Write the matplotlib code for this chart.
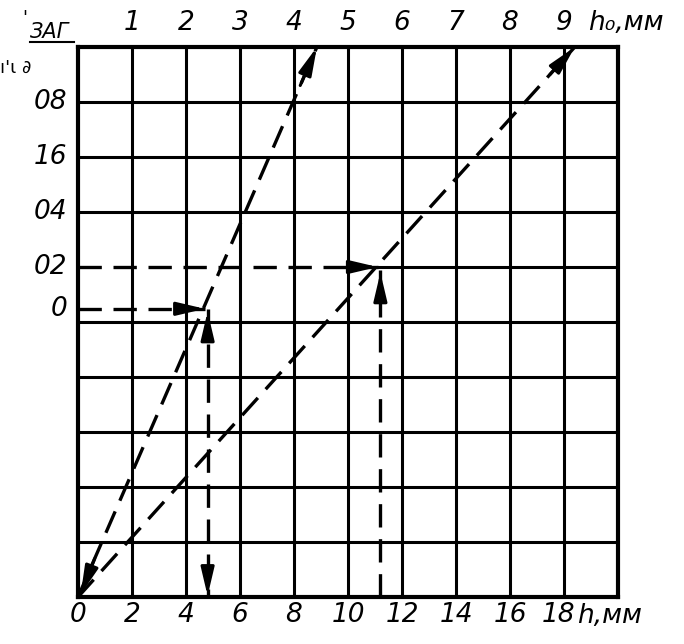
import matplotlib
matplotlib.use("Agg")
import matplotlib.pyplot as plt
from matplotlib import font_manager

# grid / scales
h_ticks = [0, 2, 4, 6, 8, 10, 12, 14, 16, 17.8]
h_labels = ["0", "2", "4", "6", "8", "10", "12", "14", "16", "18"]
h0_ticks = [2, 4, 6, 8, 10, 12, 14, 16, 18]
h0_labels = ["1", "2", "3", "4", "5", "6", "7", "8", "9"]
left_pos = [9, 8, 7, 6, 5.24]
left_labels = ["08", "16", "04", "02", "0"]

# the two dashed nomogram lines (h, grid units)
line_a_h = [0, 8.85]
line_a_y = [0, 10]
line_b_h = [0, 18.4]
line_b_y = [0, 10]

# reading examples
read1_y = 5.24
read1_h_tip = 4.7
read1_h_down = 4.8
read2_y = 6.0
read2_h_tip = 11.1
read2_h_up = 11.2
read2_y_tip = 5.95

try:
    font_manager.findfont("Liberation Sans Narrow", fallback_to_default=False)
    fam, fsize = "Liberation Sans Narrow", 22
except Exception:
    fam, fsize = "DejaVu Sans", 19
plt.rcParams["font.family"] = [fam, "DejaVu Sans"]

fig = plt.figure(figsize=(6.84, 6.44), dpi=100)
ax = fig.add_axes([78 / 684, 1 - 597 / 644, 540 / 684, 550 / 644])
ax.set_xlim(0, 20)
ax.set_ylim(0, 10)

for x in range(2, 20, 2):
    ax.axvline(x, color="black", lw=2.2, zorder=1)
for y in range(1, 10):
    if y == read2_y:
        ax.plot([read2_h_tip, 20], [y, y], color="black", lw=2.2, zorder=1)
    else:
        ax.axhline(y, color="black", lw=2.2, zorder=1)
for s in ax.spines.values():
    s.set_linewidth(3)
ax.set_xticks([])
ax.set_yticks([])

dash = dict(color="black", lw=2.4, dashes=(7, 3.5), zorder=3)


def head(tip, back):
    ax.annotate("", xy=tip, xytext=back,
                arrowprops=dict(arrowstyle="-|>,head_length=0.85,head_width=0.2",
                                color="black", lw=2.2, shrinkA=0, shrinkB=0,
                                mutation_scale=20), zorder=4)


# line A (steep), arrows at both ends
ax.plot(line_a_h, line_a_y, **dash)
head((line_a_h[1], line_a_y[1]), (line_a_h[1] * 0.93, line_a_y[1] * 0.93))
head((line_a_h[0] + 0.1, line_a_y[0] + 0.05), (line_a_h[1] * 0.07, line_a_y[1] * 0.07))

# line B
ax.plot(line_b_h, line_b_y, **dash)
head((line_b_h[1], line_b_y[1]), (line_b_h[1] * 0.95, line_b_y[1] * 0.95))

# reading 1
ax.plot([0, read1_h_tip], [read1_y, read1_y], **dash)
head((read1_h_tip, read1_y), (read1_h_tip - 0.9, read1_y))
ax.plot([read1_h_down, read1_h_down], [read1_y, 0], **dash)
head((read1_h_down, 0.02), (read1_h_down, 0.5))
head((read1_h_down, read1_y - 0.05), (read1_h_down, read1_y - 0.5))

# reading 2
ax.plot([0, read2_h_tip], [read2_y, read2_y], **dash)
head((read2_h_tip, read2_y), (read2_h_tip - 1.0, read2_y))
ax.plot([read2_h_up, read2_h_up], [0, read2_y_tip], **dash)
head((read2_h_up, read2_y_tip - 0.05), (read2_h_up, read2_y_tip - 0.55))

font = dict(fontsize=fsize, style="italic", color="black")
for x, t in zip(h_ticks, h_labels):
    ax.text(x, -0.1, t, ha="center", va="top", **font)
ax.text(18.5, -0.1, "h,мм", ha="left", va="top", **font)
for x, t in zip(h0_ticks, h0_labels):
    ax.text(x, 10.2, t, ha="center", va="bottom", **font)
ax.text(18.9, 10.2, "h₀,мм", ha="left", va="bottom", **font)
for y, t in zip(left_pos, left_labels):
    ax.text(-0.4, y, t, ha="right", va="center", **font)

fig.text(30 / 684, 1 - 38 / 644, "ЗАГ", fontsize=15, style="italic",
         ha="left", va="baseline")
fig.add_artist(plt.Line2D([30 / 684, 74 / 684], [1 - 42 / 644, 1 - 42 / 644],
                          color="black", lw=1.5))
fig.text(25 / 684, 1 - 18 / 644, "'", fontsize=13, ha="center", va="center")
fig.text(0, 1 - 68 / 644, "ı'ɩ ∂", fontsize=13, ha="left", va="center")

fig.savefig("out.png", dpi=100, facecolor="white")
